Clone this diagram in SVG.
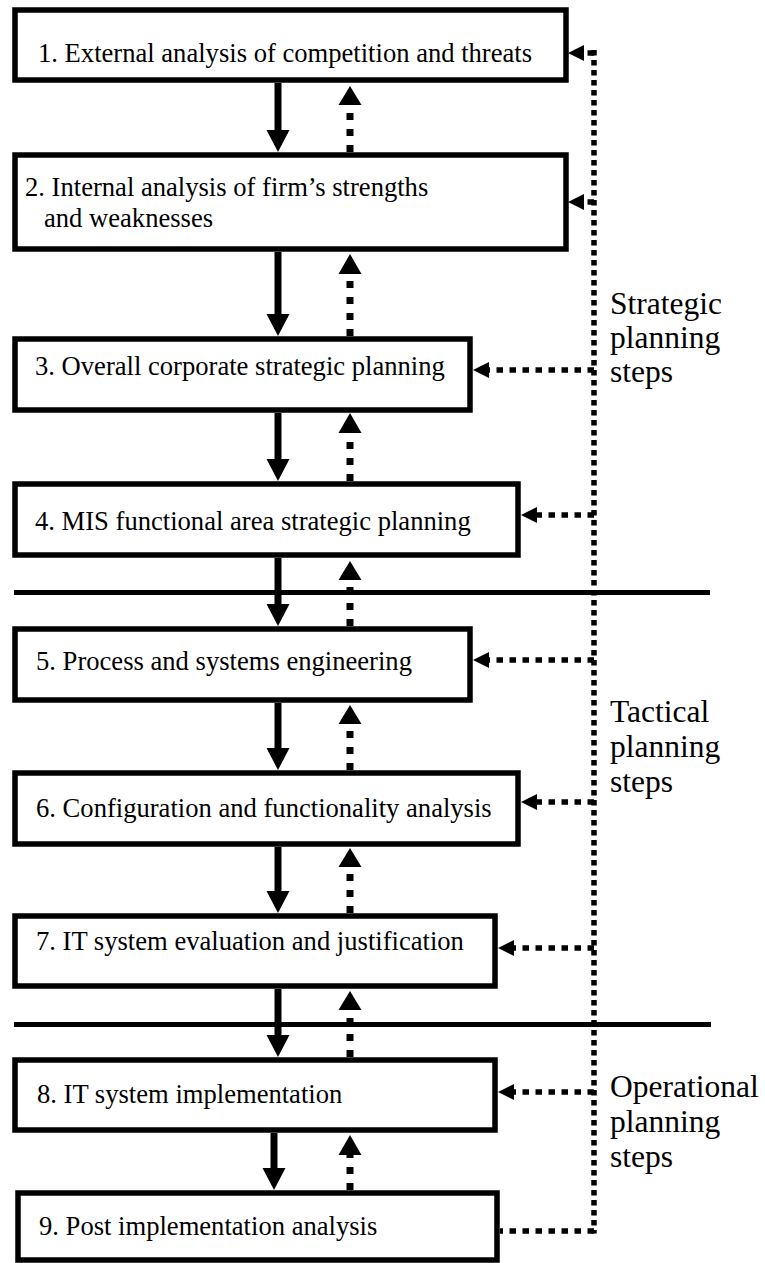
<svg xmlns="http://www.w3.org/2000/svg" width="765" height="1263" viewBox="0 0 765 1263">
<style>
.box{fill:#fff;stroke:#000;stroke-width:5.5}
.t{font-family:"Liberation Serif","Times New Roman",serif;font-size:26.6px;fill:#000}
.lbl{font-family:"Liberation Serif","Times New Roman",serif;font-size:31.5px;fill:#000}
.solid{stroke:#000;stroke-width:7;fill:none}
.dup{stroke:#000;stroke-width:7;stroke-dasharray:7 9;fill:none}
.dh{stroke:#000;stroke-width:5.5;stroke-dasharray:6.5 6.5;fill:none}
.dv{stroke:#000;stroke-width:5.5;stroke-dasharray:5.5 4.5;fill:none}
.sep{stroke:#000;stroke-width:5}
.head{fill:#000}
</style>
<rect width="765" height="1263" fill="#fff"/>
<g id="connectors">
  <!-- separators -->
  <line class="sep" x1="14" y1="592.5" x2="710" y2="592.5"/>
  <line class="sep" x1="14" y1="1024.5" x2="711" y2="1024.5"/>
  <!-- solid down arrows -->
  <line class="solid" x1="278" y1="83" x2="278" y2="131"/>
  <polygon class="head" points="266.5,130 289.5,130 278,152"/>
  <line class="solid" x1="278" y1="252" x2="278" y2="315"/>
  <polygon class="head" points="266.5,314 289.5,314 278,336"/>
  <line class="solid" x1="278" y1="413" x2="278" y2="460"/>
  <polygon class="head" points="266.5,459 289.5,459 278,481"/>
  <line class="solid" x1="278" y1="558" x2="278" y2="605"/>
  <polygon class="head" points="266.5,604 289.5,604 278,626"/>
  <line class="solid" x1="278" y1="703" x2="278" y2="749"/>
  <polygon class="head" points="266.5,748 289.5,748 278,770"/>
  <line class="solid" x1="278" y1="847" x2="278" y2="892"/>
  <polygon class="head" points="266.5,891 289.5,891 278,913"/>
  <line class="solid" x1="278" y1="989" x2="278" y2="1036"/>
  <polygon class="head" points="266.5,1035 289.5,1035 278,1057"/>
  <line class="solid" x1="274" y1="1133" x2="274" y2="1169"/>
  <polygon class="head" points="262.5,1168 285.5,1168 274,1190"/>
  <!-- dotted up arrows -->
  <line class="dup" x1="350" y1="152" x2="350" y2="105"/>
  <polygon class="head" points="338.5,105 361.5,105 350,86"/>
  <line class="dup" x1="350" y1="336" x2="350" y2="274"/>
  <polygon class="head" points="338.5,274 361.5,274 350,254"/>
  <line class="dup" x1="350" y1="481" x2="350" y2="433"/>
  <polygon class="head" points="338.5,433 361.5,433 350,413"/>
  <line class="dup" x1="350" y1="626" x2="350" y2="580"/>
  <polygon class="head" points="338.5,580 361.5,580 350,561"/>
  <line class="dup" x1="350" y1="770" x2="350" y2="724"/>
  <polygon class="head" points="338.5,724 361.5,724 350,705"/>
  <line class="dup" x1="350" y1="913" x2="350" y2="867"/>
  <polygon class="head" points="338.5,867 361.5,867 350,848"/>
  <line class="dup" x1="350" y1="1057" x2="350" y2="1010"/>
  <polygon class="head" points="338.5,1010 361.5,1010 350,991"/>
  <line class="dup" x1="350" y1="1190" x2="350" y2="1155"/>
  <polygon class="head" points="338.5,1155 361.5,1155 350,1135"/>
  <!-- feedback vertical dotted line -->
  <line class="dv" x1="594" y1="50" x2="594" y2="1233.5"/>
  <!-- horizontal dotted arrows into boxes -->
  <line class="dh" x1="594" y1="53" x2="584" y2="53"/>
  <polygon class="head" points="568,53 584,45 584,61"/>
  <line class="dh" x1="594" y1="202" x2="584" y2="202"/>
  <polygon class="head" points="568,202 584,194 584,210"/>
  <line class="dh" x1="594" y1="370" x2="489" y2="370"/>
  <polygon class="head" points="473,370 489,362 489,378"/>
  <line class="dh" x1="594" y1="515" x2="537" y2="515"/>
  <polygon class="head" points="521,515 537,507 537,523"/>
  <line class="dh" x1="594" y1="660" x2="489" y2="660"/>
  <polygon class="head" points="473,660 489,652 489,668"/>
  <line class="dh" x1="594" y1="802" x2="537" y2="802"/>
  <polygon class="head" points="521,802 537,794 537,810"/>
  <line class="dh" x1="594" y1="948" x2="514" y2="948"/>
  <polygon class="head" points="498,948 514,940 514,956"/>
  <line class="dh" x1="594" y1="1092" x2="514" y2="1092"/>
  <polygon class="head" points="498,1092 514,1084 514,1100"/>
  <!-- from box 9 to vertical line -->
  <line class="dh" x1="594" y1="1231" x2="500" y2="1231"/>
</g>
<g id="node1">
  <rect class="box" x="15" y="10" width="551" height="70"/>
  <text class="t" x="38" y="62">1. External analysis of competition and threats</text>
</g>
<g id="node2">
  <rect class="box" x="15" y="155" width="551" height="94"/>
  <text class="t" x="25" y="196">2. Internal analysis of firm’s strengths</text>
  <text class="t" x="44" y="227">and weaknesses</text>
</g>
<g id="node3">
  <rect class="box" x="15" y="339" width="455" height="71"/>
  <text class="t" x="35" y="375">3. Overall corporate strategic planning</text>
</g>
<g id="node4">
  <rect class="box" x="15" y="484" width="503" height="71"/>
  <text class="t" x="35" y="530">4. MIS functional area strategic planning</text>
</g>
<g id="node5">
  <rect class="box" x="15" y="629" width="455" height="71"/>
  <text class="t" x="36" y="670">5. Process and systems engineering</text>
</g>
<g id="node6">
  <rect class="box" x="15" y="773" width="503" height="71"/>
  <text class="t" x="36" y="817">6. Configuration and functionality analysis</text>
</g>
<g id="node7">
  <rect class="box" x="15" y="916" width="480" height="70"/>
  <text class="t" x="36" y="950">7. IT system evaluation and justification</text>
</g>
<g id="node8">
  <rect class="box" x="15" y="1060" width="480" height="70"/>
  <text class="t" x="37" y="1103">8. IT system implementation</text>
</g>
<g id="node9">
  <rect class="box" x="18" y="1193" width="479" height="67"/>
  <text class="t" x="39" y="1235">9. Post implementation analysis</text>
</g>
<g id="label-strategic">
  <text class="lbl" x="610" y="314">Strategic</text>
  <text class="lbl" x="610" y="348">planning</text>
  <text class="lbl" x="610" y="382">steps</text>
</g>
<g id="label-tactical">
  <text class="lbl" x="610" y="722">Tactical</text>
  <text class="lbl" x="610" y="757">planning</text>
  <text class="lbl" x="610" y="792">steps</text>
</g>
<g id="label-operational">
  <text class="lbl" x="610" y="1097">Operational</text>
  <text class="lbl" x="610" y="1132">planning</text>
  <text class="lbl" x="610" y="1167">steps</text>
</g>
</svg>
